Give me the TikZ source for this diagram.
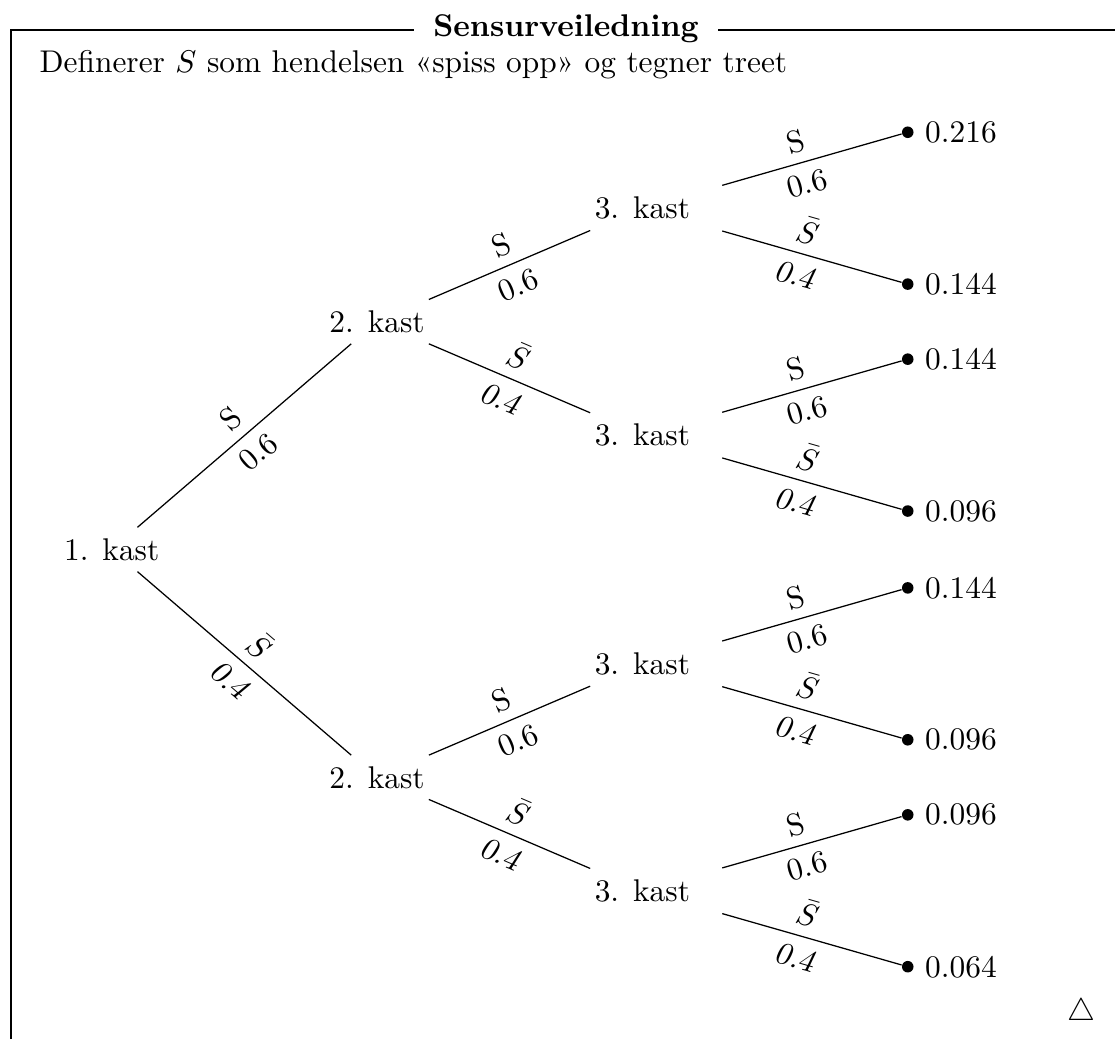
\documentclass[tikz,border=0pt]{standalone}
\usepackage{amsmath,amssymb}
\usepackage{tikz}
\usetikzlibrary{positioning}

\begin{document}
\begin{tikzpicture}[auto,every node/.style={on grid},
    leaf/.style={circle,fill,inner sep=1.3pt},
    tolea/.style={shorten <=7pt}]
    \useasboundingbox (0,0) rectangle (12.48,-11.63);
    % ramme
    \coordinate (frametop) at (0.123,-0.336);
    \coordinate (framebot) at (0.123,-11.63);
    \coordinate (frameright) at (12.48,-0.336);
    \node[anchor=base,inner xsep=6pt] (title) at (6.335,-0.414) {\textbf{Sensurveiledning}};
    \draw (framebot) -- (frametop) -- (title.west |- frametop);
    \draw (title.east |- frametop) -- (frameright);
    \node[anchor=base west,inner sep=0pt] (intro) at (0.437,-0.806)
      {Definerer $S$ som hendelsen «spiss opp» og tegner treet};
    % treet
    \node (k1) at (1.25,-6.15) {1. kast};
    \node[above right=2.55cm and 2.97cm of k1] (k2a) {2. kast};
    \node[below right=2.55cm and 2.97cm of k1] (k2b) {2. kast};
    \node[above right=1.27cm and 2.97cm of k2a] (k3a) {3. kast};
    \node[below right=1.27cm and 2.97cm of k2a] (k3b) {3. kast};
    \node[above right=1.27cm and 2.97cm of k2b] (k3c) {3. kast};
    \node[below right=1.27cm and 2.97cm of k2b] (k3d) {3. kast};
    \node[leaf,above right=0.85cm and 2.97cm of k3a,label=right:{0.216}] (l1) {};
    \node[leaf,below right=0.85cm and 2.97cm of k3a,label=right:{0.144}] (l2) {};
    \node[leaf,above right=0.85cm and 2.97cm of k3b,label=right:{0.144}] (l3) {};
    \node[leaf,below right=0.85cm and 2.97cm of k3b,label=right:{0.096}] (l4) {};
    \node[leaf,above right=0.85cm and 2.97cm of k3c,label=right:{0.144}] (l5) {};
    \node[leaf,below right=0.85cm and 2.97cm of k3c,label=right:{0.096}] (l6) {};
    \node[leaf,above right=0.85cm and 2.97cm of k3d,label=right:{0.096}] (l7) {};
    \node[leaf,below right=0.85cm and 2.97cm of k3d,label=right:{0.064}] (l8) {};
    \draw (k1) -- node[sloped] {$\mathrm{S}$} node[sloped,swap] {0.6} (k2a);
    \draw (k1) -- node[sloped] {$\bar{S}$} node[sloped,swap] {\textsl{0.4}} (k2b);
    \draw (k2a) -- node[sloped] {$\mathrm{S}$} node[sloped,swap] {0.6} (k3a);
    \draw (k2a) -- node[sloped] {$\bar{S}$} node[sloped,swap] {\textsl{0.4}} (k3b);
    \draw (k2b) -- node[sloped] {$\mathrm{S}$} node[sloped,swap] {0.6} (k3c);
    \draw (k2b) -- node[sloped] {$\bar{S}$} node[sloped,swap] {\textsl{0.4}} (k3d);
    \draw[tolea] (k3a) -- node[sloped] {$\mathrm{S}$} node[sloped,swap] {0.6} (l1);
    \draw[tolea] (k3a) -- node[sloped] {$\bar{S}$} node[sloped,swap] {\textsl{0.4}} (l2);
    \draw[tolea] (k3b) -- node[sloped] {$\mathrm{S}$} node[sloped,swap] {0.6} (l3);
    \draw[tolea] (k3b) -- node[sloped] {$\bar{S}$} node[sloped,swap] {\textsl{0.4}} (l4);
    \draw[tolea] (k3c) -- node[sloped] {$\mathrm{S}$} node[sloped,swap] {0.6} (l5);
    \draw[tolea] (k3c) -- node[sloped] {$\bar{S}$} node[sloped,swap] {\textsl{0.4}} (l6);
    \draw[tolea] (k3d) -- node[sloped] {$\mathrm{S}$} node[sloped,swap] {0.6} (l7);
    \draw[tolea] (k3d) -- node[sloped] {$\bar{S}$} node[sloped,swap] {\textsl{0.4}} (l8);
    \node (qed) at (12.1,-11.33) {$\triangle$};
  \end{tikzpicture}
\end{document}
